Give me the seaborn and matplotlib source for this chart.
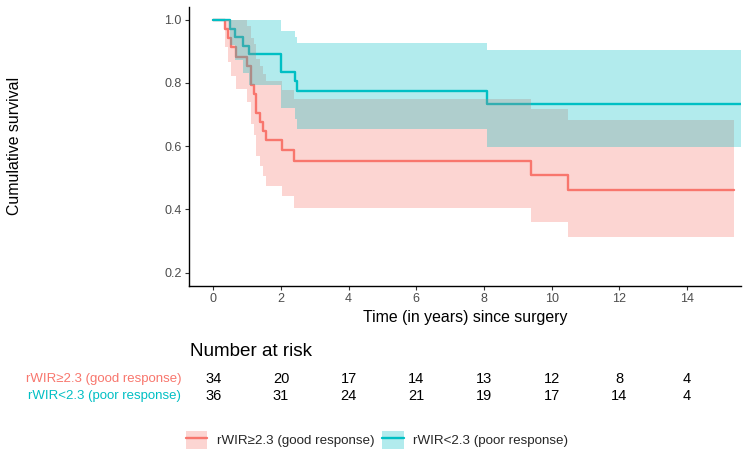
import numpy as np
import pandas as pd
import matplotlib
matplotlib.use("Agg")
import matplotlib.pyplot as plt
import matplotlib.transforms as mtransforms
from matplotlib.lines import Line2D
from matplotlib.patches import Patch
from matplotlib.legend_handler import HandlerTuple
import seaborn as sns

sns.set_theme(style="white")
plt.rcParams["font.family"] = ["Liberation Sans", "DejaVu Sans"]

# ---------------- data ----------------
group_names = ["rWIR\u22652.3 (good response)", "rWIR<2.3 (poor response)"]

good_time = [0, 0.34, 0.42, 0.53, 0.68, 1.00, 1.10, 1.20, 1.27, 1.37, 1.47, 1.57, 2.04, 2.40, 9.39, 10.48]
good_surv = [1.0, 0.971, 0.941, 0.912, 0.882, 0.853, 0.794, 0.765, 0.706, 0.676, 0.647, 0.618, 0.588, 0.552, 0.509, 0.461]
good_lower = [1.0, 0.915, 0.865, 0.821, 0.780, 0.741, 0.669, 0.635, 0.568, 0.536, 0.505, 0.474, 0.444, 0.404, 0.359, 0.312]
good_upper = [1.0, 1.0, 1.0, 1.0, 1.0, 0.981, 0.942, 0.922, 0.877, 0.853, 0.829, 0.805, 0.779, 0.749, 0.718, 0.684]
good_end = 15.40

poor_time = [0, 0.50, 0.65, 0.87, 1.05, 2.00, 2.41, 2.46, 8.08]
poor_surv = [1.0, 0.972, 0.945, 0.918, 0.892, 0.834, 0.805, 0.776, 0.734]
poor_lower = [1.0, 0.920, 0.872, 0.831, 0.792, 0.721, 0.686, 0.654, 0.596]
poor_upper = [1.0, 1.0, 1.0, 1.0, 1.0, 0.965, 0.944, 0.926, 0.905]
poor_end = 15.59

risk_times = [0, 2, 4, 6, 8, 10, 12, 14]
risk_good = [34, 20, 17, 14, 13, 12, 8, 4]
risk_poor = [36, 31, 24, 21, 19, 17, 14, 4]

x_ticks = [0, 2, 4, 6, 8, 10, 12, 14]
y_ticks = [0.2, 0.4, 0.6, 0.8, 1.0]

RED = "#F8766D"
TEAL = "#00BFC4"
colors = [RED, TEAL]

# ---------------- figure ----------------
W, H = 748, 457
fig = plt.figure(figsize=(W / 100, H / 100), dpi=100)
L, R, T, B = 189.3, 741.0, 7.0, 285.7
ax = fig.add_axes([L / W, 1 - B / H, (R - L) / W, (B - T) / H])

series = [
    (group_names[0], good_time, good_surv, good_lower, good_upper, good_end),
    (group_names[1], poor_time, poor_surv, poor_lower, poor_upper, poor_end),
]

rows = []
for name, t, s, lo, hi, end in series:
    tt = list(t) + [end]
    ss = list(s) + [s[-1]]
    for a, b in zip(tt, ss):
        rows.append({"time": a, "surv": b, "group": name})
df = pd.DataFrame(rows)

sns.lineplot(data=df, x="time", y="surv", hue="group", hue_order=group_names,
             palette=colors, drawstyle="steps-post", estimator=None, sort=False,
             linewidth=1.7, legend=False, ax=ax)

for (name, t, s, lo, hi, end), c in zip(series, colors):
    tt = list(t) + [end]
    ax.fill_between(tt, list(lo) + [lo[-1]], list(hi) + [hi[-1]], step="post",
                    color=c, alpha=0.3, linewidth=0, zorder=3)

ax.set_xlim(-0.71, 15.6)
ax.set_ylim(0.159, 1.040)
ax.set_xticks(x_ticks)
ax.set_yticks(y_ticks)
ax.set_yticklabels([f"{v:.1f}" for v in y_ticks])
for sp in ["top", "right"]:
    ax.spines[sp].set_visible(False)
for sp in ["left", "bottom"]:
    ax.spines[sp].set_color("black")
    ax.spines[sp].set_linewidth(1.0)
ax.tick_params(axis="both", which="major", bottom=True, left=True, length=3,
               width=0.8, color="#333333", labelsize=9, labelcolor="#4D4D4D", pad=2.5)

ax.set_xlabel("Time (in years) since surgery", fontsize=11.4, color="black")
ax.set_ylabel("Cumulative survival", fontsize=11.4, color="black")
ax.xaxis.set_label_coords(0.5, (285.7 - 310) / (B - T))
ax.yaxis.set_label_coords((22 - L) / (R - L), 0.5)

# ---------------- risk table ----------------
fig.text(190 / W, 1 - 351 / H, "Number at risk", fontsize=13.6, va="center", ha="left", color="black")
blend = mtransforms.blended_transform_factory(ax.transData, fig.transFigure)
row_y = [1 - 379 / H, 1 - 396 / H]
for counts, yv, name, c in zip([risk_good, risk_poor], row_y, group_names, colors):
    fig.text(181 / W, yv, name, fontsize=9.5, color=c, ha="right", va="center")
    for t, n in zip(risk_times, counts):
        ax.text(t, yv, str(n), transform=blend, fontsize=10.5, ha="center", va="center",
                color="black", clip_on=False)

# ---------------- legend ----------------
handles = [
    (Patch(facecolor=c, alpha=0.3, edgecolor="none"), Line2D([], [], color=c, lw=1.7))
    for c in colors
]
fig.legend(handles=handles, labels=group_names, handler_map={tuple: HandlerTuple(ndivide=1)},
           loc="center", bbox_to_anchor=(377 / W, 1 - 440 / H), ncol=2, frameon=False,
           fontsize=9.6, handlelength=1.6, handleheight=1.7, handletextpad=0.7, columnspacing=0.6)

fig.savefig("out.png", dpi=100)
